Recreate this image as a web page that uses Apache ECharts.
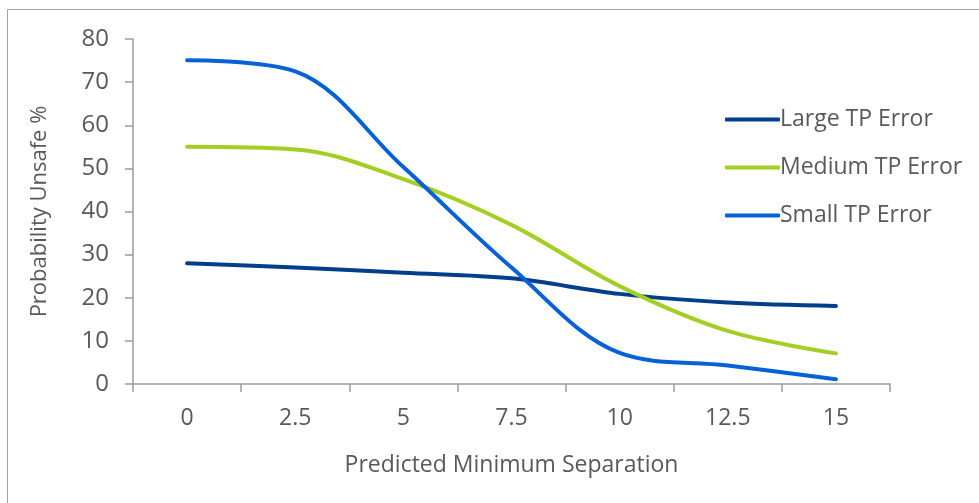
<!DOCTYPE html>
<html><head><meta charset="utf-8">
<script src="https://cdn.jsdelivr.net/npm/echarts@6/dist/echarts.min.js"></script>
<style>html,body{margin:0;padding:0;background:#fff}#c{width:979px;height:503px}</style>
</head><body><div id="c"></div>
<script>
const categories = ['0','2.5','5','7.5','10','12.5','15'];
const largeTP = [28, 27, 25.8, 24.5, 20.9, 18.9, 18.1];
const mediumTP = [55, 54.4, 47.5, 36.9, 22.7, 12.3, 7.1];
const smallTP = [75.1, 72.5, 50.3, 27, 7.2, 4.3, 1.1];
const yTicks = {min: 0, max: 80, interval: 10};

const font = '"Open Sans", sans-serif';
const txt = '#595959';
const chart = echarts.init(document.getElementById('c'), null, {renderer: 'canvas'});
function line(name, data, color) {
  return {name, type: 'line', data, smooth: 0.35, symbol: 'none',
    lineStyle: {color, width: 4, cap: 'round'}, itemStyle: {color}};
}
chart.setOption({
  animation: false,
  graphic: [{type: 'rect', shape: {x: 7.5, y: 9.5, width: 1000, height: 600},
    style: {fill: 'none', stroke: '#a0a0a0', lineWidth: 1}}],
  grid: {left: 133, right: 89, top: 39, bottom: 119},
  legend: {
    orient: 'vertical', left: 720, top: 103, itemGap: 25, itemWidth: 55, itemHeight: 4,
    icon: 'roundRect',
    textStyle: {fontFamily: font, fontSize: 23, color: txt, padding: [0, 0, 0, -5]},
    data: ['Large TP Error', 'Medium TP Error', 'Small TP Error']
  },
  xAxis: {
    type: 'category', data: categories, boundaryGap: true,
    name: 'Predicted Minimum Separation', nameLocation: 'middle', nameGap: 70,
    nameTextStyle: {fontFamily: font, fontSize: 23, color: txt},
    axisLine: {lineStyle: {color: '#9a9a9a', width: 1.5}},
    axisTick: {show: true, length: 8, interval: 0, lineStyle: {color: '#9a9a9a', width: 1.5}},
    axisLabel: {fontFamily: font, fontSize: 23, color: txt, margin: 23}
  },
  yAxis: {
    type: 'value', min: yTicks.min, max: yTicks.max, interval: yTicks.interval,
    name: 'Probability Unsafe %', nameLocation: 'middle', nameGap: 82,
    nameTextStyle: {fontFamily: font, fontSize: 22, color: txt},
    axisLine: {show: true, lineStyle: {color: '#9a9a9a', width: 1.5}},
    axisTick: {show: true, length: 8, lineStyle: {color: '#9a9a9a', width: 1.5}},
    splitLine: {show: false},
    axisLabel: {fontFamily: font, fontSize: 24, color: txt, margin: 24}
  },
  series: [
    line('Large TP Error', largeTP, '#023E8C'),
    line('Medium TP Error', mediumTP, '#A3CE24'),
    line('Small TP Error', smallTP, '#0562D6')
  ]
});
</script></body></html>
